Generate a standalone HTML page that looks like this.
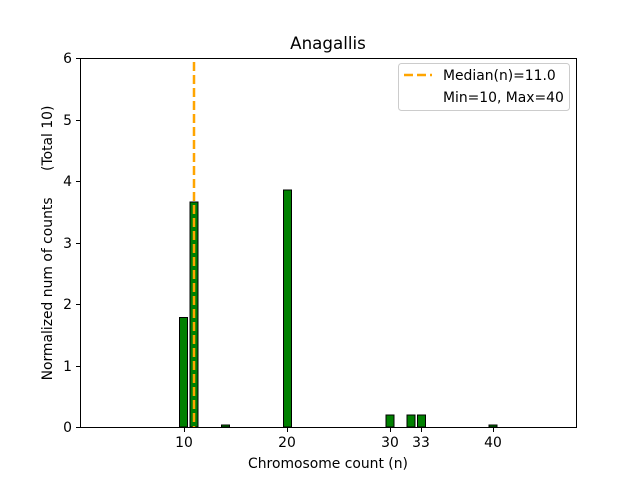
<!DOCTYPE html>
<html><head><style>body{margin:0;background:#fff}</style></head><body>
<svg width="640" height="480" xmlns="http://www.w3.org/2000/svg" font-family="DejaVu Sans, sans-serif" font-size="13.9">
<rect width="640" height="480" fill="#fff"/>
<g fill="#008000" stroke="#000" stroke-width="1">
<rect x="179.5" y="317.5" width="8" height="109.5"/>
<rect x="190" y="202" width="8" height="225"/>
<rect x="221.5" y="425" width="8" height="2"/>
<rect x="283.5" y="190" width="8" height="237"/>
<rect x="386" y="415" width="8" height="12"/>
<rect x="407" y="415" width="8" height="12"/>
<rect x="417.5" y="415" width="8" height="12"/>
<rect x="489" y="425" width="8" height="2"/>
</g>
<line x1="194" y1="62" x2="194" y2="427" stroke="#FFA500" stroke-width="2.5" stroke-dasharray="9,4"/>
<rect x="80.5" y="58.5" width="496" height="369" fill="none" stroke="#000" stroke-width="1"/>
<g stroke="#000">
<line x1="80" y1="427.5" x2="76" y2="427.5"/><line x1="80" y1="366.5" x2="76" y2="366.5"/>
<line x1="80" y1="304.5" x2="76" y2="304.5"/><line x1="80" y1="243.5" x2="76" y2="243.5"/>
<line x1="80" y1="181.5" x2="76" y2="181.5"/><line x1="80" y1="120.5" x2="76" y2="120.5"/>
<line x1="80" y1="58.5" x2="76" y2="58.5"/>
<line x1="184.5" y1="428" x2="184.5" y2="432"/><line x1="287.5" y1="428" x2="287.5" y2="432"/>
<line x1="390.5" y1="428" x2="390.5" y2="432"/><line x1="421.5" y1="428" x2="421.5" y2="432"/>
<line x1="493.5" y1="428" x2="493.5" y2="432"/>
</g>
<g text-anchor="end">
<text x="72" y="432">0</text><text x="72" y="371">1</text><text x="72" y="309">2</text>
<text x="72" y="248">3</text><text x="72" y="186">4</text><text x="72" y="125">5</text><text x="72" y="63">6</text>
</g>
<g text-anchor="middle">
<text x="184" y="447">10</text><text x="287" y="447">20</text><text x="390" y="447">30</text>
<text x="421" y="447">33</text><text x="493" y="447">40</text>
<text x="328" y="468">Chromosome count (n)</text>
<text x="328" y="49" font-size="16.7">Anagallis</text>
</g>
<text transform="translate(52,243) rotate(-90)" text-anchor="middle" xml:space="preserve">Normalized num of counts      (Total 10)</text>
<rect x="398.5" y="63.5" width="171" height="47" rx="3" fill="#fff" stroke="#ccc"/>
<line x1="404" y1="75" x2="432" y2="75" stroke="#FFA500" stroke-width="2.5" stroke-dasharray="9,4"/>
<text x="443" y="80">Median(n)=11.0</text>
<text x="443" y="102">Min=10, Max=40</text>
</svg>
</body></html>
